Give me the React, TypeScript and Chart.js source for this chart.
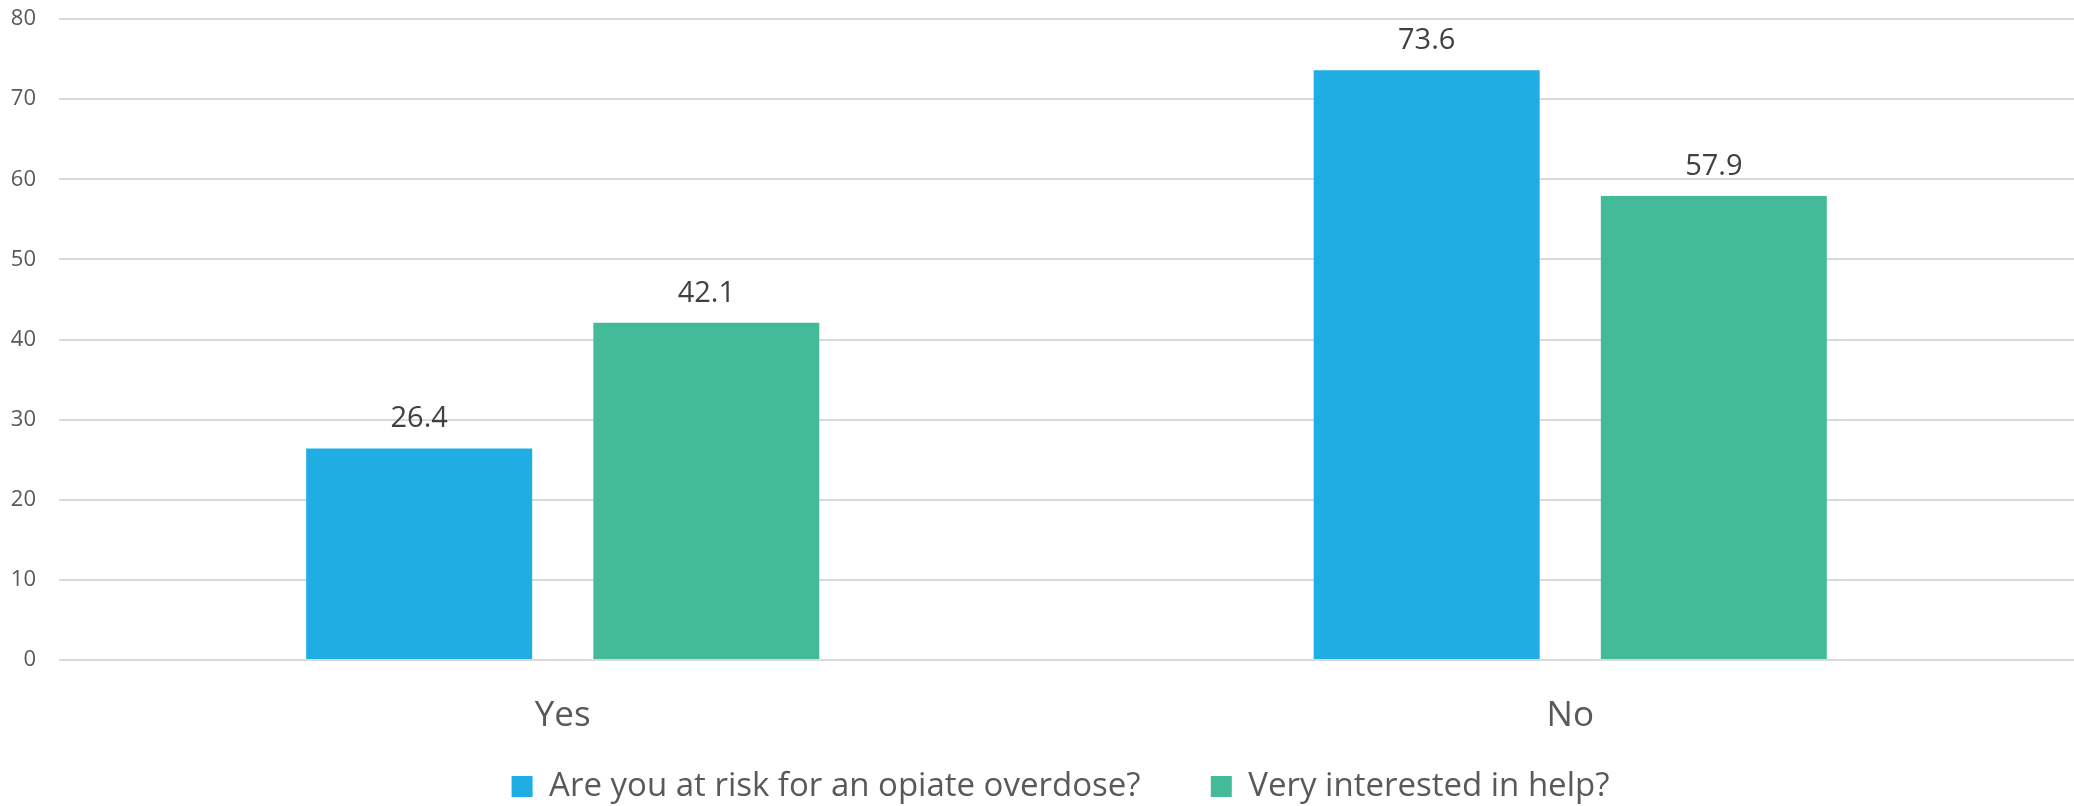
import React, { useEffect, useRef } from "react";
import { Chart, registerables } from "chart.js";

Chart.register(...registerables);

const categories = ["Yes", "No"];
const seriesNames = ["Are you at risk for an opiate overdose?", "Very interested in help?"];
const riskValues = [26.4, 73.6];
const helpValues = [42.1, 57.9];
const yTicks = [0, 10, 20, 30, 40, 50, 60, 70, 80];

const FONT = "'Open Sans', 'Noto Sans', sans-serif";
const SPACER = "\u00A0\u00A0\u00A0\u00A0";

const dataLabelPlugin = {
  id: "dataLabels",
  afterDatasetsDraw(chart: any) {
    const ctx = chart.ctx;
    ctx.save();
    ctx.font = `29px ${FONT}`;
    ctx.fillStyle = "#404040";
    ctx.textAlign = "center";
    ctx.textBaseline = "alphabetic";
    chart.data.datasets.forEach((ds: any, i: number) => {
      const meta = chart.getDatasetMeta(i);
      meta.data.forEach((bar: any, j: number) => {
        const v = ds.data[j];
        ctx.fillText(v.toFixed(1), bar.x, bar.y - 21);
      });
    });
    ctx.restore();
  },
};

const legendShiftPlugin = {
  id: "legendShift",
  afterLayout(chart: any) {
    if (chart.legend) {
      chart.legend.left += 22;
      chart.legend.right += 22;
    }
  },
};

export default function App() {
  const ref = useRef<HTMLCanvasElement | null>(null);
  useEffect(() => {
    if (!ref.current) return;
    const chart = new Chart(ref.current, {
      type: "bar",
      data: {
        labels: categories,
        datasets: [
          {
            label: seriesNames[0],
            data: riskValues,
            backgroundColor: "#1FADE4",
            categoryPercentage: 0.57,
            barPercentage: 0.787,
          },
          {
            label: seriesNames[1],
            data: helpValues,
            backgroundColor: "#43BB98",
            categoryPercentage: 0.57,
            barPercentage: 0.787,
          },
        ],
      },
      options: {
        responsive: false,
        animation: false,
        layout: { padding: { left: 0, top: 19, right: -3, bottom: -7 } },
        plugins: {
          legend: {
            position: "bottom",
            labels: {
              font: { family: FONT, size: 33 },
              color: "#595959",
              boxWidth: 21,
              boxHeight: 21,
              padding: 36,
              generateLabels: (chart: any) => {
                const items = Chart.defaults.plugins.legend.labels.generateLabels(chart);
                return items.map((it: any, i: number) =>
                  i === 0 ? { ...it, text: it.text + SPACER } : it
                );
              },
            },
          },
          tooltip: { enabled: false },
        },
        scales: {
          x: {
            grid: { display: false, drawTicks: false },
            border: { display: false },
            ticks: { font: { family: FONT, size: 35 }, color: "#595959", padding: 35 },
            afterFit: (scale: any) => {
              scale.height = 74;
            },
          },
          y: {
            min: 0,
            max: 80,
            afterBuildTicks: (scale: any) => {
              scale.ticks = yTicks.map((v) => ({ value: v }));
            },
            grid: {
              color: "#D9D9D9",
              lineWidth: 2,
              drawTicks: true,
              tickLength: 23,
              tickColor: "rgba(0,0,0,0)",
            },
            border: { display: false },
            ticks: { font: { family: FONT, size: 22 }, color: "#595959", padding: 0 },
            afterFit: (scale: any) => {
              scale.width = 59;
            },
          },
        },
      },
      plugins: [dataLabelPlugin, legendShiftPlugin],
    });
    return () => chart.destroy();
  }, []);
  return (
    <div style={{ position: "absolute", left: 0, top: 0, width: 2074, height: 806, background: "#fff" }}>
      <canvas ref={ref} width={2074} height={806} style={{ display: "block" }} />
    </div>
  );
}
